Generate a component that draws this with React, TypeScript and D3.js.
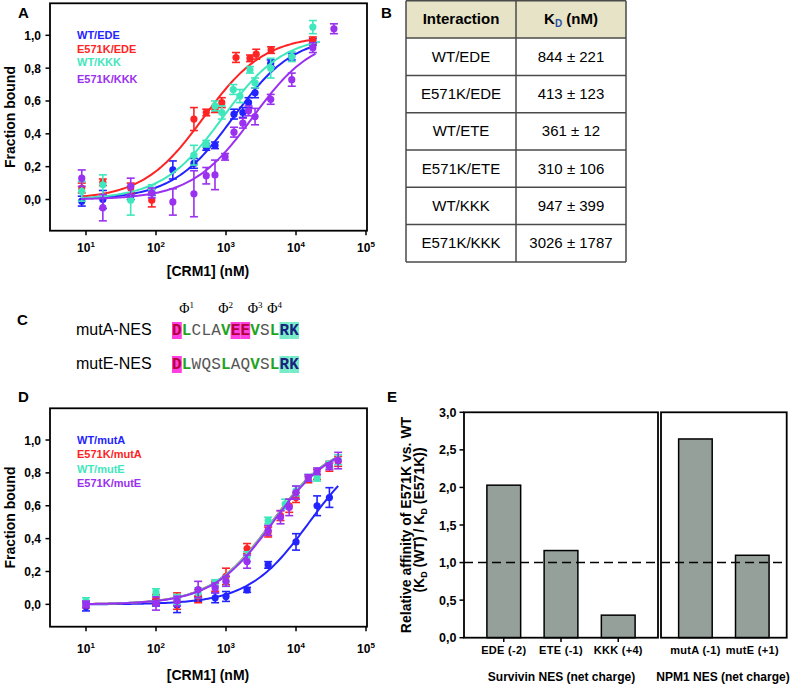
import React from 'react';
import * as d3 from 'd3';

const FONT = 'Liberation Sans, Arial, Helvetica, sans-serif';
const SERIF = 'Liberation Serif, Times New Roman, serif';
const MONO = 'Liberation Mono, Courier New, monospace';

const COLORS = ['#2323ff', '#ff2424', '#3fe8bc', '#9a30f0'];

// ---------- Panel A data ----------
const aNames = ['WT/EDE', 'E571K/EDE', 'WT/KKK', 'E571K/KKK'];
const aWtEdeX = [8.7, 17.4, 43.5, 87, 174, 348, 522, 696, 1300, 1740, 2100, 2600, 4350, 8700, 17400];
const aWtEdeY = [-0.01, 0.0, 0.02, 0.045, 0.18, 0.22, 0.32, 0.33, 0.52, 0.53, 0.59, 0.65, 0.83, 0.87, 0.96];
const aWtEdeE = [0.03, 0.055, 0.02, 0.02, 0.055, 0.03, 0.02, 0.02, 0.03, 0.03, 0.03, 0.03, 0.02, 0.02, 0.02];
const aMutEdeX = [8.7, 17.4, 43.5, 87, 348, 522, 696, 870, 1390, 2200, 2700, 4400, 17400];
const aMutEdeY = [0.07, 0.105, 0.07, -0.005, 0.49, 0.53, 0.55, 0.59, 0.865, 0.86, 0.885, 0.91, 0.97];
const aMutEdeE = [0.03, 0.02, 0.03, 0.04, 0.07, 0.02, 0.02, 0.03, 0.03, 0.02, 0.03, 0.02, 0.02];
const aWtKkkX = [8.7, 17.4, 43.5, 87, 348, 522, 696, 870, 1270, 1580, 2200, 2600, 4350, 8700, 17400];
const aWtKkkY = [0.05, 0.09, -0.005, 0.06, 0.27, 0.34, 0.57, 0.53, 0.67, 0.63, 0.79, 0.71, 0.8, 0.87, 1.05];
const aWtKkkE = [0.06, 0.06, 0.09, 0.03, 0.06, 0.02, 0.03, 0.04, 0.03, 0.04, 0.02, 0.03, 0.06, 0.03, 0.04];
const aMutKkkX = [8.7, 17.4, 43.5, 87, 174, 348, 522, 696, 970, 1300, 1740, 2100, 2600, 4350, 8700, 17400, 34800];
const aMutKkkY = [0.13, -0.05, 0.08, 0.04, -0.015, 0.035, 0.145, 0.15, 0.26, 0.41, 0.465, 0.54, 0.505, 0.61, 0.73, 0.925, 1.04];
const aMutKkkE = [0.05, 0.08, 0.05, 0.03, 0.08, 0.14, 0.05, 0.09, 0.02, 0.03, 0.03, 0.03, 0.05, 0.03, 0.04, 0.03, 0.03];
const aFitK = [1270, 480, 900, 2400];
const aFitStart = [8.5, 8.5, 8.5, 8.5];
const aFitEnd = [18000, 19000, 22000, 19000];

// ---------- Panel B data ----------
const bInteractions = ['WT/EDE', 'E571K/EDE', 'WT/ETE', 'E571K/ETE', 'WT/KKK', 'E571K/KKK'];
const bKd = ['844 ± 221', '413 ± 123', '361 ± 12', '310 ± 106', '947 ± 399', '3026 ± 1787'];

// ---------- Panel C data ----------
const cNames = ['mutA-NES', 'mutE-NES'];
const cSeqs = ['DLCLAVEEVSLRK', 'DLWQSLAQVSLRK'];
const cRoles = [
  ['neg', 'phi', 'n', 'n', 'n', 'phi', 'neg', 'neg', 'phi', 'n', 'phi', 'pos', 'pos'],
  ['neg', 'phi', 'n', 'n', 'n', 'phi', 'n', 'n', 'phi', 'n', 'phi', 'pos', 'pos'],
];
const cPhiIdx = [1, 5, 8, 10];

// ---------- Panel D data ----------
const dNames = ['WT/mutA', 'E571K/mutA', 'WT/mutE', 'E571K/mutE'];
const dWtAX = [10, 100, 200, 400, 700, 1000, 2000, 4000, 10000, 20000, 30000];
const dWtAY = [-0.015, 0.01, -0.005, 0.034, 0.04, 0.048, 0.088, 0.24, 0.38, 0.6, 0.65];
const dWtAE = [0.025, 0.02, 0.045, 0.015, 0.03, 0.03, 0.015, 0.02, 0.05, 0.06, 0.06];
const dMutAX = [10, 100, 200, 400, 700, 1000, 2000, 4000, 6000, 8000, 10000, 15000, 20000, 30000, 40000];
const dMutAY = [0.0, 0.03, 0.02, 0.05, 0.11, 0.17, 0.34, 0.44, 0.54, 0.6, 0.65, 0.76, 0.79, 0.84, 0.87];
const dMutAE = [0.02, 0.03, 0.05, 0.04, 0.03, 0.05, 0.03, 0.03, 0.03, 0.04, 0.03, 0.02, 0.03, 0.03, 0.03];
const dWtEX = [10, 100, 200, 400, 700, 1000, 2000, 4000, 7000, 10000, 15000, 20000, 30000, 40000];
const dWtEY = [0.02, 0.075, 0.03, 0.07, 0.13, 0.14, 0.29, 0.51, 0.61, 0.69, 0.77, 0.77, 0.85, 0.88];
const dWtEE = [0.02, 0.02, 0.03, 0.03, 0.02, 0.03, 0.03, 0.02, 0.03, 0.03, 0.02, 0.02, 0.02, 0.03];
const dMutEX = [10, 100, 200, 400, 700, 1000, 2000, 4000, 6000, 8000, 10000, 15000, 20000, 30000, 40000];
const dMutEY = [0.0, 0.005, 0.02, 0.09, 0.1, 0.14, 0.26, 0.45, 0.53, 0.59, 0.68, 0.77, 0.81, 0.84, 0.875];
const dMutEE = [0.02, 0.04, 0.03, 0.05, 0.03, 0.03, 0.04, 0.03, 0.04, 0.05, 0.04, 0.02, 0.02, 0.02, 0.05];
const dFitK = [15500, 4500, 4550, 4700];
const dFitStart = [10, 10, 10, 10];
const dFitEnd = [40000, 40000, 40000, 40000];

// ---------- Panel E data ----------
const eSurvivin = ['EDE (-2)', 'ETE (-1)', 'KKK (+4)'];
const eSurvivinVals = [2.03, 1.16, 0.3];
const eNpm = ['mutA (-1)', 'mutE (+1)'];
const eNpmVals = [2.645, 1.097];
const eYTicks = [0, 0.5, 1, 1.5, 2, 2.5, 3];
const bindYTicks = [0, 0.2, 0.4, 0.6, 0.8, 1.0];
const xDecades = [1, 2, 3, 4, 5];

const comma = (v: number) => d3.format('.1f')(v).replace('.', ',');

type Series = { name: string; color: string; xs: number[]; ys: number[]; es: number[]; K: number; x0: number; x1: number };

function BindingPanel(props: {
  series: Series[];
  yDomain: [number, number];
  yRange: [number, number];
  legendYs: number[];
  tickLabelY: number;
  titleY: number;
}) {
  const { series, yDomain, yRange, legendYs, tickLabelY, titleY } = props;
  const x = d3.scaleLog().domain([3.06, 103300]).range([50, 367]);
  const y = d3.scaleLinear().domain(yDomain).range(yRange);
  const line = d3.line<[number, number]>().x((d) => x(d[0])).y((d) => y(d[1]));
  const top = yRange[1];
  const bottom = yRange[0];
  return (
    <g>
      <rect x={50} y={top} width={317} height={bottom - top} fill="none" stroke="#000" strokeWidth={1.8} />
      {bindYTicks.map((v) => (
        <g key={v}>
          <line x1={45.5} x2={50} y1={y(v)} y2={y(v)} stroke="#000" strokeWidth={1.5} />
          <text x={41} y={y(v) + 4.5} textAnchor="end" fontFamily={FONT} fontWeight="bold" fontSize={12}>
            {comma(v)}
          </text>
        </g>
      ))}
      {xDecades.map((p) => (
        <g key={p}>
          <line x1={x(10 ** p)} x2={x(10 ** p)} y1={bottom} y2={bottom + 4.5} stroke="#000" strokeWidth={1.5} />
          <text x={x(10 ** p)} y={tickLabelY} textAnchor="middle" fontFamily={FONT} fontWeight="bold" fontSize={12}>
            <tspan>10</tspan>
            <tspan dy={-5} fontSize={8}>{p}</tspan>
          </text>
        </g>
      ))}
      <text x={208} y={titleY} textAnchor="middle" fontFamily={FONT} fontWeight="bold" fontSize={14}>
        [CRM1] (nM)
      </text>
      <text
        transform={`translate(15,${(top + bottom) / 2}) rotate(-90)`}
        textAnchor="middle"
        fontFamily={FONT}
        fontWeight="bold"
        fontSize={14}
      >
        Fraction bound
      </text>
      {series.map((s, si) => {
        const n = 120;
        const pts: [number, number][] = d3.range(n + 1).map((i) => {
          const c = Math.exp(Math.log(s.x0) + (i / n) * (Math.log(s.x1) - Math.log(s.x0)));
          return [c, c / (s.K + c)];
        });
        return (
          <g key={si}>
            <path d={line(pts) || ''} fill="none" stroke={s.color} strokeWidth={2} />
            {s.xs.map((cx, i) => {
              const px = x(cx);
              const yv = s.ys[i];
              const e = s.es[i];
              return (
                <g key={i}>
                  <line x1={px} x2={px} y1={y(yv - e)} y2={y(yv + e)} stroke={s.color} strokeWidth={1.6} />
                  <line x1={px - 4} x2={px + 4} y1={y(yv - e)} y2={y(yv - e)} stroke={s.color} strokeWidth={1.6} />
                  <line x1={px - 4} x2={px + 4} y1={y(yv + e)} y2={y(yv + e)} stroke={s.color} strokeWidth={1.6} />
                  <circle cx={px} cy={y(yv)} r={3.6} fill={s.color} />
                </g>
              );
            })}
          </g>
        );
      })}
      {series.map((s, si) => (
        <text key={si} x={77} y={legendYs[si]} fontFamily={FONT} fontWeight="bold" fontSize={11} fill={s.color}>
          {s.name}
        </text>
      ))}
    </g>
  );
}

function TablePanel() {
  const left = 406;
  const mid = 516;
  const right = 626;
  const rowH = 37.3;
  const top = 0.8;
  const rows = bInteractions.length + 1;
  return (
    <g fontFamily={FONT} fontSize={15}>
      <rect x={left} y={top} width={right - left} height={rowH} fill="#e7e3c6" />
      {d3.range(rows + 1).map((i) => (
        <line key={i} x1={left} x2={right} y1={top + i * rowH} y2={top + i * rowH} stroke="#4a4a4a" strokeWidth={1.5} />
      ))}
      {[left, mid, right].map((xv) => (
        <line key={xv} x1={xv} x2={xv} y1={top} y2={top + rows * rowH} stroke="#4a4a4a" strokeWidth={1.5} />
      ))}
      <text x={(left + mid) / 2} y={top + rowH / 2 + 5} textAnchor="middle" fontWeight="bold">
        Interaction
      </text>
      <text x={(mid + right) / 2} y={top + rowH / 2 + 5} textAnchor="middle" fontWeight="bold">
        <tspan>K</tspan>
        <tspan dy={3} fontSize={10} fill="#2a4fa8">D</tspan>
        <tspan dy={-3}> (nM)</tspan>
      </text>
      {bInteractions.map((name, i) => (
        <g key={name}>
          <text x={(left + mid) / 2} y={top + (i + 1.5) * rowH + 5} textAnchor="middle">
            {name}
          </text>
          <text x={(mid + right) / 2} y={top + (i + 1.5) * rowH + 5} textAnchor="middle">
            {bKd[i]}
          </text>
        </g>
      ))}
    </g>
  );
}

function SequencePanel() {
  const seqX = 172;
  const cw = 9.77;
  const baselines = [335, 369];
  const style: Record<string, { bg: string | null; fill: string; weight: string }> = {
    neg: { bg: '#ff3fe0', fill: '#b4003c', weight: 'bold' },
    phi: { bg: null, fill: '#1fa51f', weight: 'bold' },
    n: { bg: null, fill: '#555555', weight: 'normal' },
    pos: { bg: '#78ecc8', fill: '#1a237e', weight: 'bold' },
  };
  return (
    <g>
      {cPhiIdx.map((idx, k) => (
        <text key={k} x={seqX + (idx + 0.5) * cw} y={313} textAnchor="middle" fontFamily={SERIF} fontSize={14}>
          <tspan>Φ</tspan>
          <tspan dy={-5} fontSize={9}>{k + 1}</tspan>
        </text>
      ))}
      {cNames.map((nm, r) => (
        <g key={nm}>
          <text x={76} y={baselines[r]} fontFamily={FONT} fontSize={16}>
            {nm}
          </text>
          {cSeqs[r].split('').map((ch, i) => {
            const st = style[cRoles[r][i]];
            const cx = seqX + i * cw;
            return (
              <g key={i}>
                {st.bg && <rect x={cx} y={baselines[r] - 13} width={cw} height={17} fill={st.bg} />}
                <text
                  x={cx + cw / 2}
                  y={baselines[r]}
                  textAnchor="middle"
                  fontFamily={MONO}
                  fontSize={16}
                  fontWeight={st.weight}
                  fill={st.fill}
                >
                  {ch}
                </text>
              </g>
            );
          })}
        </g>
      ))}
    </g>
  );
}

function BarPanel() {
  const y = d3.scaleLinear().domain([0, 3]).range([637.7, 412.3]);
  const x1 = d3.scaleBand<string>().domain(eSurvivin).range([464, 658]).paddingInner(0.41).paddingOuter(0.4);
  const x2 = d3.scaleBand<string>().domain(eNpm).range([661, 786.7]).paddingInner(0.41).paddingOuter(0.31);
  const barFill = '#96a09b';
  const y1 = y(1);
  return (
    <g fontFamily={FONT} fontWeight="bold">
      {eSurvivin.map((c, i) => (
        <rect key={c} x={x1(c)} y={y(eSurvivinVals[i])} width={x1.bandwidth()} height={y(0) - y(eSurvivinVals[i])} fill={barFill} stroke="#000" strokeWidth={1.5} />
      ))}
      {eNpm.map((c, i) => (
        <rect key={c} x={x2(c)} y={y(eNpmVals[i])} width={x2.bandwidth()} height={y(0) - y(eNpmVals[i])} fill={barFill} stroke="#000" strokeWidth={1.5} />
      ))}
      <line x1={464} x2={658} y1={y1} y2={y1} stroke="#000" strokeWidth={1.6} strokeDasharray="9,5" />
      <line x1={661} x2={786.7} y1={y1} y2={y1} stroke="#000" strokeWidth={1.6} strokeDasharray="9,5" />
      <rect x={464} y={412.3} width={194} height={225.4} fill="none" stroke="#000" strokeWidth={1.8} />
      <rect x={661} y={412.3} width={125.7} height={225.4} fill="none" stroke="#000" strokeWidth={1.8} />
      {eYTicks.map((v) => (
        <g key={v}>
          <line x1={459.5} x2={464} y1={y(v)} y2={y(v)} stroke="#000" strokeWidth={1.5} />
          <text x={456.5} y={y(v) + 4.5} textAnchor="end" fontSize={12.5}>
            {comma(v)}
          </text>
        </g>
      ))}
      {eSurvivin.map((c) => (
        <line key={c} x1={(x1(c) || 0) + x1.bandwidth() / 2} x2={(x1(c) || 0) + x1.bandwidth() / 2} y1={637.7} y2={642} stroke="#000" strokeWidth={1.5} />
      ))}
      {eSurvivin.map((c) => (
        <text key={c} x={(x1(c) || 0) + x1.bandwidth() / 2} y={654} textAnchor="middle" fontSize={11} letterSpacing={0.3}>
          {c}
        </text>
      ))}
      {eNpm.map((c) => (
        <text key={c} x={(x2(c) || 0) + x2.bandwidth() / 2} y={654} textAnchor="middle" fontSize={11} letterSpacing={0.3}>
          {c}
        </text>
      ))}
      <text x={561.5} y={681} textAnchor="middle" fontSize={12}>
        Survivin NES (net charge)
      </text>
      <text x={723} y={681} textAnchor="middle" fontSize={12}>
        NPM1 NES (net charge)
      </text>
      <text transform="translate(411,525) rotate(-90)" textAnchor="middle" fontSize={14}>
        Relative affinity of E571K vs. WT
      </text>
      <text transform="translate(424,520) rotate(-90)" textAnchor="middle" fontSize={14}>
        <tspan>(K</tspan>
        <tspan dy={3} fontSize={9}>D</tspan>
        <tspan dy={-3}> (WT) / K</tspan>
        <tspan dy={3} fontSize={9}>D</tspan>
        <tspan dy={-3}> (E571K))</tspan>
      </text>
    </g>
  );
}

export default function App() {
  const aSeries: Series[] = [
    { name: aNames[0], color: COLORS[0], xs: aWtEdeX, ys: aWtEdeY, es: aWtEdeE, K: aFitK[0], x0: aFitStart[0], x1: aFitEnd[0] },
    { name: aNames[1], color: COLORS[1], xs: aMutEdeX, ys: aMutEdeY, es: aMutEdeE, K: aFitK[1], x0: aFitStart[1], x1: aFitEnd[1] },
    { name: aNames[2], color: COLORS[2], xs: aWtKkkX, ys: aWtKkkY, es: aWtKkkE, K: aFitK[2], x0: aFitStart[2], x1: aFitEnd[2] },
    { name: aNames[3], color: COLORS[3], xs: aMutKkkX, ys: aMutKkkY, es: aMutKkkE, K: aFitK[3], x0: aFitStart[3], x1: aFitEnd[3] },
  ];
  const dSeries: Series[] = [
    { name: dNames[0], color: COLORS[0], xs: dWtAX, ys: dWtAY, es: dWtAE, K: dFitK[0], x0: dFitStart[0], x1: dFitEnd[0] },
    { name: dNames[1], color: COLORS[1], xs: dMutAX, ys: dMutAY, es: dMutAE, K: dFitK[1], x0: dFitStart[1], x1: dFitEnd[1] },
    { name: dNames[2], color: COLORS[2], xs: dWtEX, ys: dWtEY, es: dWtEE, K: dFitK[2], x0: dFitStart[2], x1: dFitEnd[2] },
    { name: dNames[3], color: COLORS[3], xs: dMutEX, ys: dMutEY, es: dMutEE, K: dFitK[3], x0: dFitStart[3], x1: dFitEnd[3] },
  ];
  const panelLabels: [string, number, number][] = [
    ['A', 18, 18],
    ['B', 381, 18],
    ['C', 17, 325],
    ['D', 18, 402],
    ['E', 387, 402],
  ];
  return (
    <svg width={793} height={690} style={{ position: 'absolute', left: 0, top: 0, background: '#fff' }}>
      <rect x={0} y={0} width={793} height={690} fill="#fff" />
      <BindingPanel series={aSeries} yDomain={[-0.19, 1.195]} yRange={[230.7, 3.3]} legendYs={[39, 52.7, 66, 82.5]} tickLabelY={252} titleY={276} />
      <TablePanel />
      <SequencePanel />
      <BindingPanel series={dSeries} yDomain={[-0.136, 1.193]} yRange={[626.7, 408.3]} legendYs={[444.3, 457.7, 472.7, 486.7]} tickLabelY={653} titleY={680} />
      <BarPanel />
      {panelLabels.map(([t, x, y]) => (
        <text key={t} x={x} y={y} fontFamily={FONT} fontWeight="bold" fontSize={15}>
          {t}
        </text>
      ))}
    </svg>
  );
}
